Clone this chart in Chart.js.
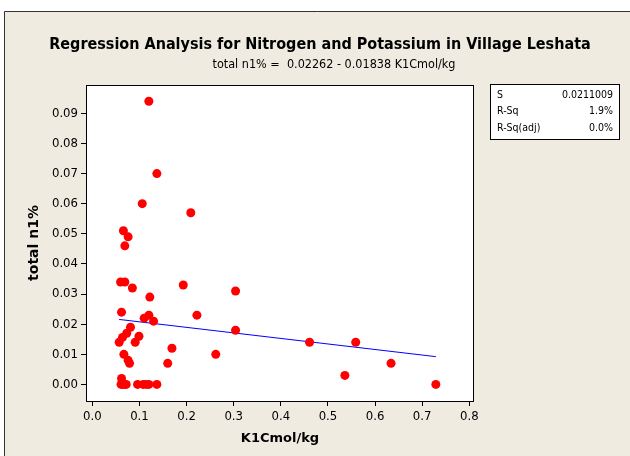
<!DOCTYPE html>
<html lang="en">
<head>
<meta charset="UTF-8">
<title>Regression Analysis for Nitrogen and Potassium in Village Leshata</title>
<script src="https://cdn.jsdelivr.net/npm/chart.js"></script>
<style>
  body { margin: 0; background: #fff; }
  canvas { display: block; }
</style>
</head>
<body>
<canvas id="chart" width="630" height="456"></canvas>
<script>
// values
const kValues = [0.120, 0.137, 0.106, 0.209, 0.066, 0.076, 0.069, 0.060, 0.069, 0.085,
                 0.193, 0.122, 0.062, 0.222, 0.120, 0.110, 0.130, 0.081, 0.073, 0.064,
                 0.057, 0.099, 0.091, 0.169, 0.067, 0.076, 0.079, 0.160, 0.262, 0.062,
                 0.061, 0.065, 0.069, 0.072, 0.096, 0.108, 0.115, 0.120, 0.137,
                 0.304, 0.304, 0.461, 0.559, 0.536, 0.634, 0.729];
const nValues = [0.094, 0.070, 0.060, 0.057, 0.051, 0.049, 0.046, 0.034, 0.034, 0.032,
                 0.033, 0.029, 0.024, 0.023, 0.023, 0.022, 0.021, 0.019, 0.017, 0.0156,
                 0.014, 0.016, 0.014, 0.012, 0.010, 0.008, 0.007, 0.007, 0.010, 0.002,
                 0, 0, 0, 0, 0, 0, 0, 0, 0,
                 0.031, 0.018, 0.014, 0.014, 0.003, 0.007, 0];
const intercept = 0.02262;
const slope = -0.01838;
const xTicks = [0, 0.1, 0.2, 0.3, 0.4, 0.5, 0.6, 0.7, 0.8];
const yTicks = [0, 0.01, 0.02, 0.03, 0.04, 0.05, 0.06, 0.07, 0.08, 0.09];
const statLabels = ['S', 'R-Sq', 'R-Sq(adj)'];
const statValues = ['0.0211009', '1.9%', '0.0%'];

const FONT = '"DejaVu Sans Condensed", "DejaVu Sans", sans-serif';
const BOLD = '"DejaVu Sans", sans-serif';
const BG = '#efebe1';

const points = kValues.map((k, i) => ({ x: k, y: nValues[i] }));
const xMin = Math.min(...kValues), xMax = Math.max(...kValues);
const fitLine = [xMin, xMax].map(x => ({ x: x, y: intercept + slope * x }));

const frame = {
  id: 'frame',
  beforeDraw(chart) {
    const c = chart.ctx, a = chart.chartArea;
    c.save();
    c.fillStyle = '#fff';
    c.fillRect(0, 0, chart.width, chart.height);
    c.fillStyle = BG;
    c.fillRect(4, 11, chart.width - 4, chart.height - 11);
    c.strokeStyle = '#333';
    c.lineWidth = 1;
    c.beginPath();
    c.moveTo(4.5, chart.height);
    c.lineTo(4.5, 11.5);
    c.lineTo(chart.width, 11.5);
    c.stroke();
    c.fillStyle = '#fff';
    c.fillRect(a.left, a.top, a.right - a.left, a.bottom - a.top);
    c.restore();
  },
  beforeDatasetsDraw(chart) {
    const c = chart.ctx, a = chart.chartArea;
    c.save();
    c.strokeStyle = '#000';
    c.lineWidth = 1;
    c.strokeRect(a.left + 0.5, a.top + 0.5, a.right - a.left - 1, a.bottom - a.top);
    c.restore();
  },
  afterDraw(chart) {
    const c = chart.ctx;
    c.save();
    c.fillStyle = '#000';
    c.textAlign = 'center';
    c.textBaseline = 'middle';
    c.font = 'bold 16px ' + FONT;
    c.fillText('Regression Analysis for Nitrogen and Potassium in Village Leshata', 320, 45);
    c.font = '12.5px ' + FONT;
    c.fillText('total n1% =  0.02262 - 0.01838 K1Cmol/kg', 334, 65);
    // stats box
    c.fillStyle = '#fff';
    c.fillRect(490, 84, 129, 55);
    c.strokeStyle = '#000';
    c.strokeRect(490.5, 84.5, 129, 55);
    c.fillStyle = '#000';
    c.font = '10.5px ' + FONT;
    statLabels.forEach((s, i) => {
      const y = 95 + i * 16.5;
      c.textAlign = 'left';
      c.fillText(s, 497, y);
      c.textAlign = 'right';
      c.fillText(statValues[i], 613, y);
    });
    c.restore();
  }
};

new Chart(document.getElementById('chart'), {
  type: 'scatter',
  data: {
    datasets: [{
      data: points,
      backgroundColor: '#ff0000',
      borderColor: '#ff0000',
      pointRadius: 4.5,
      borderWidth: 0
    }, {
      type: 'line',
      data: fitLine,
      borderColor: '#0000ff',
      borderWidth: 1,
      pointRadius: 0,
      fill: false
    }]
  },
  plugins: [frame],
  options: {
    responsive: false,
    animation: false,
    layout: { padding: { left: 26, right: 156, top: 85, bottom: 5 } },
    plugins: { legend: { display: false }, tooltip: { enabled: false } },
    scales: {
      x: {
        type: 'linear',
        min: -0.0134,
        max: 0.81,
        afterBuildTicks: s => { s.ticks = xTicks.map(v => ({ value: v })); },
        afterFit: s => { s.height = 50; },
        grid: { drawOnChartArea: false, drawTicks: true, tickLength: 5, color: '#000' },
        border: { display: false },
        ticks: { color: '#000', font: { family: FONT, size: 13 }, padding: 3, maxRotation: 0,
                 callback: v => v.toFixed(1) },
        title: { display: true, text: 'K1Cmol/kg', color: '#000',
                 font: { family: BOLD, size: 13, weight: 'bold' }, padding: { top: 0, bottom: 5 } }
      },
      y: {
        type: 'linear',
        min: -0.0055,
        max: 0.0994,
        afterBuildTicks: s => { s.ticks = yTicks.map(v => ({ value: v })); },
        afterFit: s => { s.width = 60; },
        grid: { drawOnChartArea: false, drawTicks: true, tickLength: 5, color: '#000' },
        border: { display: false },
        ticks: { color: '#000', font: { family: FONT, size: 13 }, padding: 3,
                 callback: v => v.toFixed(2) },
        title: { display: true, text: 'total n1%', color: '#000',
                 font: { family: BOLD, size: 14, weight: 'bold' }, padding: 0 }
      }
    }
  }
});
</script>
</body>
</html>
